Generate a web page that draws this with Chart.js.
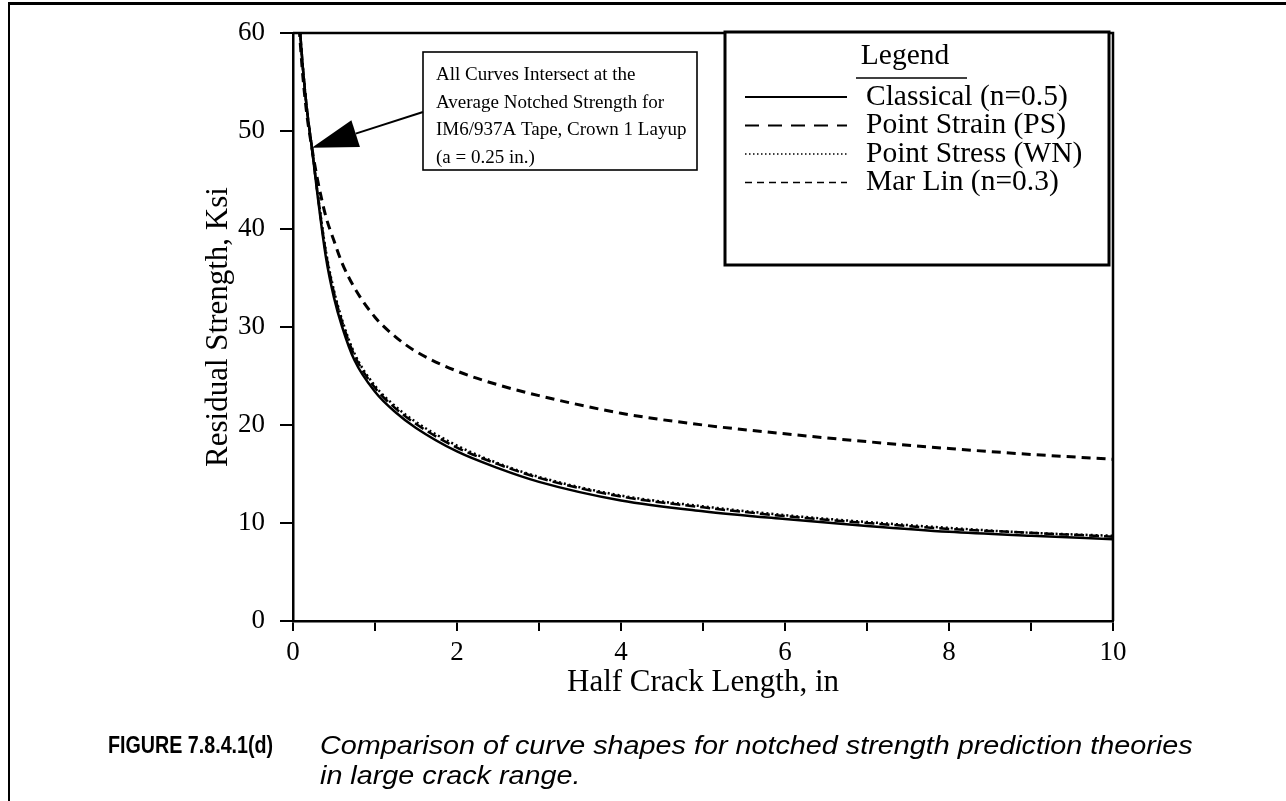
<!DOCTYPE html>
<html>
<head>
<meta charset="utf-8">
<script src="https://cdn.jsdelivr.net/npm/chart.js@4.4.1/dist/chart.umd.min.js"></script>
<style>
  html, body { margin: 0; padding: 0; background: #fff; }
  #wrap { position: relative; width: 1286px; height: 801px; overflow: hidden; }
  #chart { position: absolute; left: 0; top: 0; }
  .rule { position: absolute; background: #000; }
  .cap { position: absolute; font-family: 'Liberation Sans', Arial, sans-serif; color: #000;
         white-space: nowrap; line-height: 30px; transform-origin: 0 0; }
  .fig { left: 108px; top: 730px; font-size: 24px; font-weight: bold; transform: scaleX(0.82); }
  .txt { left: 320px; font-size: 25px; font-style: italic; transform: scaleX(1.15); }
  .l1 { top: 730px; }
  .l2 { top: 760px; }
</style>
</head>
<body>
<div id="wrap">
  <canvas id="chart" width="1286" height="801"></canvas>
  <div class="rule" style="left:8px;top:2px;width:1278px;height:3px"></div>
  <div class="rule" style="left:8px;top:2px;width:2px;height:799px"></div>
  <div class="cap fig">FIGURE 7.8.4.1(d)</div>
  <div class="cap txt l1">Comparison of curve shapes for notched strength prediction theories</div>
  <div class="cap txt l2">in large crack range.</div>
</div>

<script>
/* ---------------------------------------------
   Data (half crack length, in -> Ksi)
--------------------------------------------- */
const crackLength = [0.075, 0.12, 0.17, 0.23, 0.3, 0.4, 0.5, 0.6, 0.75, 1.0, 1.25, 1.5,
                     2, 2.5, 3, 4, 5, 6, 7, 8, 9, 10];

const classical   = [61.5, 56.5, 52.2, 48.3, 43.4, 37.2, 33.0, 30.0, 26.6, 23.4, 21.3, 19.7,
                     17.3, 15.6, 14.2, 12.3, 11.2, 10.4, 9.7, 9.1, 8.7, 8.35];
const pointStrain = [61.5, 56.5, 52.2, 48.3, 43.6, 37.6, 33.5, 30.5, 27.1, 23.8, 21.7, 20.1,
                     17.7, 16.0, 14.6, 12.7, 11.6, 10.7, 10.0, 9.4, 9.0, 8.6];
const pointStress = [61.5, 56.5, 52.2, 48.3, 43.7, 37.8, 33.7, 30.7, 27.3, 24.0, 21.9, 20.3,
                     17.9, 16.1, 14.7, 12.8, 11.7, 10.8, 10.1, 9.5, 9.0, 8.7];
const marLin      = [60.5, 55.6, 51.6, 48.3, 45.0, 41.3, 38.8, 36.5, 34.0, 31.0, 29.0, 27.5,
                     25.5, 24.1, 23.0, 21.2, 20.0, 19.1, 18.3, 17.6, 17.0, 16.5];

const xTicks = [0, 2, 4, 6, 8, 10];
const yTicks = [0, 10, 20, 30, 40, 50, 60];

const seriesNames = ['Classical (n=0.5)', 'Point Strain (PS)', 'Point Stress (WN)', 'Mar Lin (n=0.3)'];
const noteLines = ['All Curves Intersect at the', 'Average Notched Strength for',
                   'IM6/937A Tape, Crown 1 Layup', '(a = 0.25 in.)'];
const intersectAt = { x: 0.23, y: 48.3 };

const SERIF = "'Liberation Serif', 'Times New Roman', serif";

function pts(ys) {
  return crackLength.map((x, i) => ({ x: x, y: ys[i] }));
}

/* ---------------------------------------------
   Frame, note box with arrow, legend box
--------------------------------------------- */
const decorPlugin = {
  id: 'decor',
  afterDraw(chart) {
    const ctx = chart.ctx;
    const a = chart.chartArea;
    const xs = chart.scales.x, ys = chart.scales.y;

    ctx.save();
    ctx.strokeStyle = '#000';
    ctx.fillStyle = '#000';

    // top + right frame of the plot
    ctx.lineWidth = 2.5;
    ctx.beginPath();
    ctx.moveTo(a.left, a.top);
    ctx.lineTo(a.right, a.top);
    ctx.lineTo(a.right, a.bottom);
    ctx.stroke();

    // note box
    const nb = { l: 423, t: 52, r: 697, b: 170 };
    ctx.fillStyle = '#fff';
    ctx.fillRect(nb.l, nb.t, nb.r - nb.l, nb.b - nb.t);
    ctx.lineWidth = 1.6;
    ctx.strokeRect(nb.l, nb.t, nb.r - nb.l, nb.b - nb.t);
    ctx.fillStyle = '#000';
    ctx.font = '19px ' + SERIF;
    ctx.textAlign = 'left';
    ctx.textBaseline = 'alphabetic';
    noteLines.forEach((s, i) => ctx.fillText(s, 436, 80 + i * 27.5));

    // arrow to the intersection point
    const tx = xs.getPixelForValue(intersectAt.x);
    const ty = ys.getPixelForValue(intersectAt.y);
    const sx = nb.l, sy = 112;
    const ang = Math.atan2(ty - sy, tx - sx);
    const hl = 46, hw = 14;
    const bx = tx - hl * Math.cos(ang), by = ty - hl * Math.sin(ang);
    ctx.lineWidth = 2;
    ctx.beginPath();
    ctx.moveTo(sx, sy);
    ctx.lineTo(bx, by);
    ctx.stroke();
    ctx.beginPath();
    ctx.moveTo(tx, ty);
    ctx.lineTo(bx + hw * Math.sin(ang), by - hw * Math.cos(ang));
    ctx.lineTo(bx - hw * Math.sin(ang), by + hw * Math.cos(ang));
    ctx.closePath();
    ctx.fill();

    // legend box
    const lb = { l: 725, t: 32, r: 1109, b: 265 };
    ctx.fillStyle = '#fff';
    ctx.fillRect(lb.l, lb.t, lb.r - lb.l, lb.b - lb.t);
    ctx.lineWidth = 3;
    ctx.strokeRect(lb.l, lb.t, lb.r - lb.l, lb.b - lb.t);
    ctx.fillStyle = '#000';
    ctx.font = '29.5px ' + SERIF;
    ctx.textAlign = 'center';
    ctx.textBaseline = 'middle';
    ctx.fillText('Legend', 905, 56);
    ctx.lineWidth = 1.5;
    ctx.beginPath();
    ctx.moveTo(856, 78);
    ctx.lineTo(967, 78);
    ctx.stroke();

    ctx.textAlign = 'left';
    chart.data.datasets.forEach((ds, i) => {
      const y = 97 + i * 28.5;
      ctx.setLineDash(ds.legendDash);
      ctx.lineWidth = ds.legendWidth;
      ctx.beginPath();
      ctx.moveTo(745, y);
      ctx.lineTo(847, y);
      ctx.stroke();
      ctx.setLineDash([]);
      ctx.fillText(ds.label, 866, y);
    });

    ctx.restore();
  }
};

/* ---------------------------------------------
   Chart
--------------------------------------------- */
function makeSet(label, ys, dash, width, legendDash, legendWidth) {
  return {
    label: label,
    data: pts(ys),
    showLine: true,
    borderColor: '#000',
    backgroundColor: '#000',
    borderWidth: width,
    borderDash: dash,
    pointRadius: 0,
    cubicInterpolationMode: 'monotone',
    legendDash: legendDash,
    legendWidth: legendWidth,
  };
}

new Chart(document.getElementById('chart'), {
  type: 'scatter',
  data: {
    datasets: [
      makeSet(seriesNames[0], classical,   [],      2.5, [],         2),
      makeSet(seriesNames[1], pointStrain, [10, 5], 2.5, [14, 9],    2),
      makeSet(seriesNames[2], pointStress, [2, 3],  2.5, [1.5, 2.5], 1.5),
      makeSet(seriesNames[3], marLin,      [9, 6],  3,   [7, 5],     1.6),
    ]
  },
  options: {
    responsive: false,
    animation: false,
    layout: { padding: { left: 200, top: 33, right: 173, bottom: 100 } },
    plugins: {
      legend: { display: false },
      tooltip: { enabled: false },
    },
    scales: {
      x: {
        type: 'linear',
        min: 0, max: 10,
        afterFit(s) { s.height = 80; s.paddingLeft = 0; s.paddingRight = 0; },
        afterBuildTicks(s) { s.ticks = [0,1,2,3,4,5,6,7,8,9,10].map(v => ({ value: v })); },
        ticks: {
          color: '#000',
          padding: 6,
          maxRotation: 0,
          font: { family: SERIF, size: 27 },
          callback: v => (xTicks.includes(v) ? String(v) : ''),
        },
        grid: { drawOnChartArea: false, drawTicks: true, tickLength: 10, color: '#000', lineWidth: 2 },
        border: { display: true, color: '#000', width: 2.5 },
        title: {
          display: true, text: 'Half Crack Length, in', color: '#000',
          font: { family: SERIF, size: 31 }, padding: 0,
        },
      },
      y: {
        min: 0, max: 60,
        afterFit(s) { s.width = 93; s.paddingTop = 0; s.paddingBottom = 0; },
        afterBuildTicks(s) { s.ticks = yTicks.map(v => ({ value: v })); },
        ticks: {
          color: '#000',
          padding: 15,
          font: { family: SERIF, size: 27 },
        },
        grid: { drawOnChartArea: false, drawTicks: true, tickLength: 13, color: '#000', lineWidth: 2 },
        border: { display: true, color: '#000', width: 2.5 },
        title: {
          display: true, text: 'Residual Strength, Ksi', color: '#000',
          font: { family: SERIF, size: 31 }, padding: 0,
        },
      },
    },
  },
  plugins: [decorPlugin],
});
</script>
</body>
</html>
